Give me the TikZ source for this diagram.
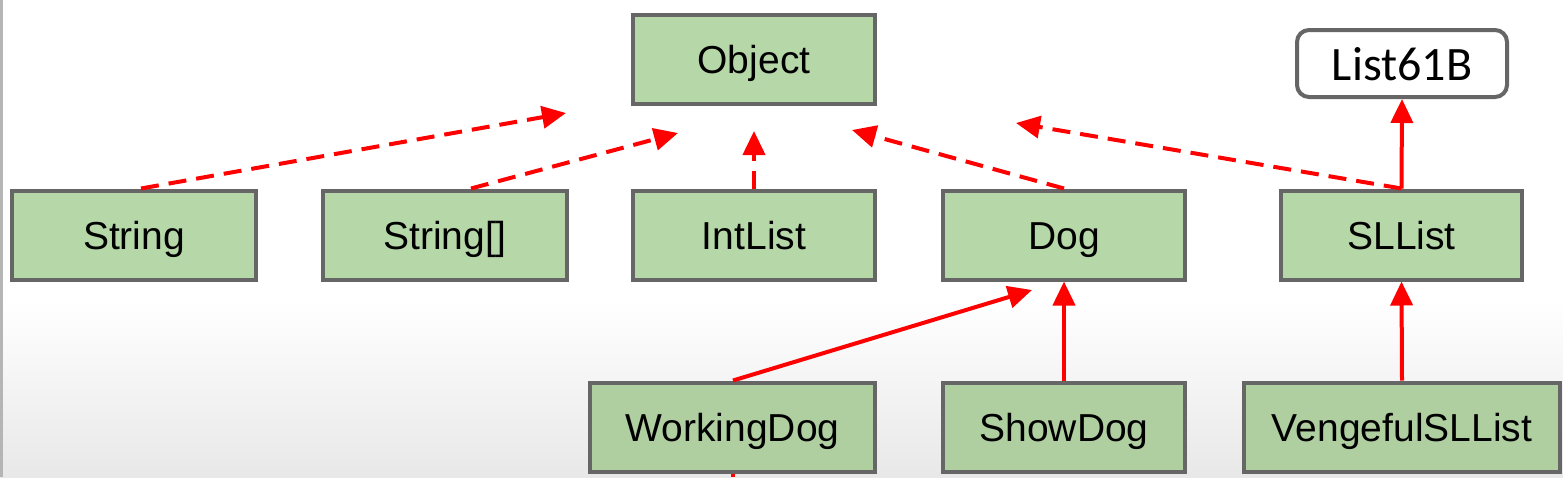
\documentclass[tikz,border=0pt]{standalone}
\usepackage{fontspec}
\setmainfont{Liberation Sans}
\newfontfamily\calibri{Carlito}
\usetikzlibrary{arrows.meta}
\definecolor{boxgreen}{HTML}{B6D7A8}
\definecolor{boxgreenlow}{HTML}{AFCFA1}
\definecolor{boxborder}{HTML}{666666}
\definecolor{arrred}{HTML}{FF0000}
\definecolor{edgegray}{HTML}{B5B5B5}
\begin{document}
\begin{tikzpicture}[x=1pt,y=-1pt,
  classbox/.style={draw=boxborder,line width=4pt,fill=boxgreen,inner sep=0pt,
    minimum height=89pt,text height=28pt,text depth=0pt,
    font=\fontsize{39}{42}\selectfont},
  lowbox/.style={classbox,fill=boxgreenlow},
  ifacebox/.style={draw=boxborder,line width=4pt,fill=white,rounded corners=12pt,
    inner sep=0pt,minimum width=210pt,minimum height=67pt,
    text height=34pt,text depth=0pt,
    font=\calibri\fontsize{48}{50}\selectfont},
  extarrow/.style={draw=arrred,line width=4pt,-{Triangle[length=24pt,width=22pt]}},
  implarrow/.style={extarrow,dash pattern=on 18pt off 10pt},
  plainline/.style={draw=arrred,line width=4pt}
]
\useasboundingbox (0,0) rectangle (1563,477);
\fill[white] (0,0) rectangle (1563,477);
\shade[top color=white,bottom color=black!9] (0,300) rectangle (1563,477);
\fill[edgegray] (0,0) rectangle (3,477);

% nodes
\node[classbox,minimum width=242pt] (Object) at (754,59) {Object};
\node[ifacebox] (List61B) at (1402,63.5) {List61B};
\node[classbox,minimum width=244pt] (String) at (134,235) {String};
\node[classbox,minimum width=244pt] (StringArr) at (445,235) {String[]};
\node[classbox,minimum width=242pt] (IntList) at (754,235) {IntList};
\node[classbox,minimum width=242pt] (Dog) at (1064,235) {Dog};
\node[classbox,minimum width=241pt] (SLList) at (1401.5,235) {SLList};
\node[lowbox,minimum width=285pt] (WorkingDog) at (732.5,427) {WorkingDog};
\node[lowbox,minimum width=242pt] (ShowDog) at (1064,427) {ShowDog};
\node[lowbox,minimum width=316pt] (Vengeful) at (1402,427) {VengefulSLList};

% free ends
\coordinate (tipString) at (566,113);
\coordinate (tipStringArr) at (678,133);
\coordinate (tipIntList) at (754,131);
\coordinate (tipDog) at (852,130);
\coordinate (tipSLList) at (1016,123);
\coordinate (tipWorking) at (1032,290);
\coordinate (offWorking) at (733,477);

% connectors
\draw[implarrow] ([xshift=7pt]String.north) -- (tipString);
\draw[implarrow] ([xshift=26pt]StringArr.north) -- (tipStringArr);
\draw[implarrow] (IntList.north) -- (tipIntList);
\draw[implarrow] (Dog.north) -- (tipDog);
\draw[implarrow] (SLList.north) -- (tipSLList);
\draw[extarrow] (SLList.north) -- (List61B.south);
\draw[extarrow] ([xshift=0.5pt]WorkingDog.north) -- (tipWorking);
\draw[extarrow] (ShowDog.north) -- (Dog.south);
\draw[extarrow] (Vengeful.north) -- (SLList.south);
\draw[plainline] ([xshift=0.5pt]WorkingDog.south) -- (offWorking);
\end{tikzpicture}
\end{document}
